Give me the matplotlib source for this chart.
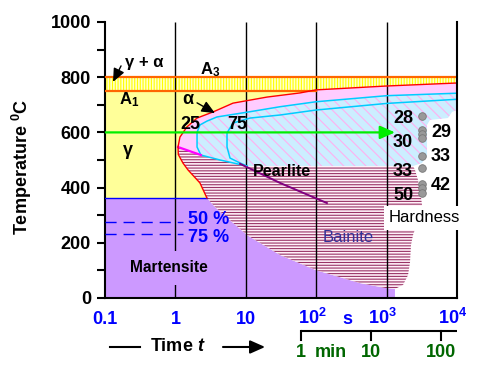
import numpy as np
import matplotlib
matplotlib.use('Agg')
import matplotlib.pyplot as plt
import matplotlib.transforms as mtransforms
from matplotlib.patches import FancyArrowPatch
from matplotlib.ticker import NullLocator

plt.rcParams['font.family'] = ['Liberation Sans', 'DejaVu Sans']
plt.rcParams['mathtext.fontset'] = 'custom'
plt.rcParams['mathtext.rm'] = 'Liberation Sans:bold'
plt.rcParams['mathtext.bf'] = 'Liberation Sans:bold'
plt.rcParams['mathtext.it'] = 'Liberation Sans:bold:italic'
plt.rcParams['hatch.linewidth'] = 0.8

# ---------------- data ----------------
A3 = 800
A1 = 750
Ms = 362
M50 = 274
M75 = 232
T_iso = 600

# pearlite start curve (red)
red_t = [10000, 977, 99, 58.9, 20, 6.58, 3.42, 2.03, 1.46, 1.16, 1.09, 1.10, 1.28, 1.51, 2.23, 2.81, 3.65]
red_T = [779, 768, 754, 743, 728, 706, 674, 652, 620, 583, 547, 520, 489, 464, 417, 362, 330]
nose = 10
# 25 % and 75 % transformation curves (cyan)
c25_t = [10000, 1000, 99, 30.6, 11.5, 3.9, 2.81, 2.23, 2.03, 2.03, 2.03, 2.3, 4.31, 10.4]
c25_T = [742, 733, 711, 693, 675, 656, 641, 627, 600, 580, 547, 518, 500, 478]
c75_t = [10000, 1000, 99, 30.6, 11.5, 6.58, 5.41, 5.41, 5.41, 5.97, 8.3, 10.4]
c75_T = [720, 705, 681, 663, 652, 634, 598, 572, 547, 507, 489, 478]
# pearlite / bainite separation (magenta)
mag_t = [1.09, 2.3]
mag_T = [547, 518]
# right edge of pearlite field
pe_t = [2370, 3185, 3750, 3750, 4130, 7450, 8490, 10000]
pe_T = [478, 489, 518, 627, 645, 652, 674, 681]
# right edge of bainite field
be_t = [2370, 2530, 2790, 2980, 3185, 2980, 2370, 2220, 2150, 2015, 1710, 1315]
be_T = [478, 464, 428, 391, 337, 301, 228, 192, 130, 83, 47, 33]
# martensite boundary
ms_t = [2.81, 3.65, 10.4, 30.6, 99, 419, 977, 1315]
ms_T = [362, 330, 228, 156, 101, 54, 36, 33]
# bainite inner line (purple)
bl_t = [8.3, 30.6, 142]
bl_T = [486, 417, 344]

# hardness
hard_left = ['28', '30', '33', '50']
hard_left_T = [649, 565, 460, 373]
hard_right = ['29', '33', '42']
hard_right_T = [601, 511, 409]
dot_T = [659, 609, 594, 580, 514, 471, 413, 399, 380]
t_left, t_dots, t_right = 1710, 3185, 5930

xticks = [0.1, 1, 10, 100, 1000, 10000]
xtick_labels = ['0.1', '1', '10', r'$10^2$', r'$10^3$', r'$10^4$']
min_ticks = [60, 600, 6000]
min_labels = ['1', '10', '100']

# ---------------- figure ----------------
fig = plt.figure(figsize=(4.84, 3.72), dpi=100)
ax = fig.add_axes([105/484, 74/372, 352/484, 276/372])
ax.set_xscale('log')
ax.set_xlim(0.1, 10000)
ax.set_ylim(0, 1000)

t_a1 = 10 ** np.interp(A1, [red_T[3], red_T[2]], np.log10([red_t[3], red_t[2]]))

# yellow austenite
yt = [0.1, 0.1, t_a1] + red_t[3:16]
yT = [Ms, A1, A1] + red_T[3:16]
ax.fill(yt, yT, facecolor='#FFFF99', lw=0, zorder=1)

# striped band A1..A3
bt = [0.1, t_a1] + red_t[2::-1] + [10000, 0.1]
bT = [A1, A1] + red_T[2::-1] + [A3, A3]
ax.fill(bt, bT, facecolor='#FFFFCC', edgecolor='#FFFF00', hatch='||||||', lw=0, zorder=1)

# martensite
mt = [0.1, 0.1] + ms_t + [ms_t[-1]]
mT = [0, Ms] + ms_T + [0]
ax.fill(mt, mT, facecolor='#CC99FF', lw=0, zorder=1)

# pink (pearlite start region)
pt = red_t[:nose+1] + c25_t[11::-1]
pT = red_T[:nose+1] + c25_T[11::-1]
ax.fill(pt, pT, facecolor='#FFCCFF', lw=0, zorder=1)

# pearlite hatched
ht = c25_t + pe_t
hT = c25_T + pe_T
ax.fill(ht, hT, facecolor='#CCEEFF', edgecolor='#FFB0F0', hatch='\\\\\\', lw=0, zorder=1)

# bainite hatched
bnt = [red_t[nose]] + c25_t[11:] + be_t + ms_t[6:0:-1] + red_t[15:nose:-1]
bnT = [red_T[nose]] + c25_T[11:] + be_T + ms_T[6:0:-1] + red_T[15:nose:-1]
ax.fill(bnt, bnT, facecolor='#FFF0F8', edgecolor='#993366', hatch='------', lw=0, zorder=1)

# grid lines
ax.vlines([1, 10, 100, 1000], 0, 1000, color='black', lw=1, zorder=2)

# curves
ax.plot([0.1, 10000], [A3, A3], color='#FF6600', lw=1.6, zorder=3)
ax.plot([0.1, red_t[2]], [A1, A1], color='#FF6600', lw=1.6, zorder=3)
ax.plot(red_t[:16], red_T[:16], color='#FF0000', lw=1.0, zorder=4)
ax.plot(c25_t, c25_T, color='#00CCFF', lw=1.1, zorder=3)
ax.plot(c75_t, c75_T, color='#00CCFF', lw=1.1, zorder=3)
ax.plot(mag_t, mag_T, color='#FF00FF', lw=1.6, zorder=3)
ax.plot(bl_t, bl_T, color='#800080', lw=1.4, zorder=3)
ax.plot([0.1, ms_t[0]], [Ms, Ms], color='#0000FF', lw=1.0, zorder=3)
ax.plot([0.1, 1.28], [M50, M50], color='#0000FF', lw=1.0, ls=(0, (8, 5)), zorder=3)
ax.plot([0.1, 1.28], [M75, M75], color='#0000FF', lw=1.0, ls=(0, (8, 5)), zorder=3)

# isothermal arrow
ax.add_patch(FancyArrowPatch((0.1, T_iso), (1315, T_iso), arrowstyle='-|>,head_length=0.9,head_width=0.4',
                             mutation_scale=10, color='#00EE00', lw=1.6, zorder=5,
                             shrinkA=0, shrinkB=0))

# hardness dots
ax.scatter([t_dots]*len(dot_T), dot_T, s=30, facecolor='#999999', edgecolor='#777777', lw=0.6, zorder=6)
for s, T in zip(hard_left, hard_left_T):
    ax.text(t_left, T, s, ha='center', va='center', fontsize=13, fontweight='bold', zorder=7)
for s, T in zip(hard_right, hard_right_T):
    ax.text(t_right, T, s, ha='center', va='center', fontsize=13, fontweight='bold', zorder=7)
ax.text(3400, 290, 'Hardness', ha='center', va='center', fontsize=12, zorder=10,
        bbox=dict(boxstyle='square,pad=0.25', facecolor='white', edgecolor='none'), clip_on=False)

# labels inside
ax.text(0.358, 855, 'γ + α', ha='center', va='center', fontsize=12, fontweight='bold', zorder=7)
ax.annotate('', xy=(0.130, 783), xytext=(0.169, 841),
            arrowprops=dict(arrowstyle='-|>,head_length=0.8,head_width=0.35', color='black', lw=1,
                            shrinkA=0, shrinkB=0), zorder=7)
ax.text(3.1, 826, r'A$_3$', ha='center', va='center', fontsize=12, fontweight='bold', zorder=7)
ax.text(0.219, 717, r'A$_1$', ha='center', va='center', fontsize=12, fontweight='bold', zorder=7)
ax.text(1.51, 721, 'α', ha='center', va='center', fontsize=13, fontweight='bold', zorder=7)
ax.annotate('', xy=(3.65, 670), xytext=(2.03, 707),
            arrowprops=dict(arrowstyle='-|>,head_length=0.8,head_width=0.35', color='black', lw=1,
                            shrinkA=0, shrinkB=0), zorder=7)
ax.text(1.61, 630, '25', ha='center', va='center', fontsize=13, fontweight='bold', zorder=7)
ax.text(7.5, 630, '75', ha='center', va='center', fontsize=13, fontweight='bold', zorder=7)
ax.text(0.21, 536, 'γ', ha='center', va='center', fontsize=13, fontweight='bold', zorder=7)
ax.text(32.7, 460, 'Pearlite', ha='center', va='center', fontsize=11.5, fontweight='bold', zorder=7)
ax.text(3.0, 283, '50 %', ha='center', va='center', fontsize=13, fontweight='bold', color='#0000FF', zorder=7)
ax.text(3.0, 221, '75 %', ha='center', va='center', fontsize=13, fontweight='bold', color='#0000FF', zorder=7)
ax.text(0.81, 109, 'Martensite', ha='center', va='center', fontsize=11.2, fontweight='bold', zorder=7,
        bbox=dict(boxstyle='square,pad=0.6', facecolor='#CC99FF', edgecolor='none'))
ax.text(283, 221, 'Bainite', ha='center', va='center', fontsize=12, color='#333399', zorder=7)

# axes styling
for sp in ['left', 'bottom', 'right']:
    ax.spines[sp].set_linewidth(1.5)
ax.spines['top'].set_visible(False)
ax.spines['right'].set_zorder(4)
ax.set_yticks(range(0, 1001, 200))
ax.set_yticks(range(100, 1000, 200), minor=True)
ax.tick_params(axis='y', which='both', direction='out', length=6, width=1.5, pad=4,
               labelsize=13)
for lab in ax.get_yticklabels():
    lab.set_fontweight('bold')
ax.xaxis.set_major_locator(NullLocator())
ax.xaxis.set_minor_locator(NullLocator())
ax.set_ylabel(r'Temperature $^0$C', fontsize=13, fontweight='bold')
ax.yaxis.set_label_coords(-0.2017, 0.475)

# x tick labels (manual)
xt = ax.get_xaxis_transform()
for t, s in zip(xticks, xtick_labels):
    off = -4 if '^' in s else 0
    tr = mtransforms.offset_copy(xt, fig=fig, x=off, y=0, units='dots')
    ax.text(t, -0.094, s, transform=tr, ha='center', va='baseline', fontsize=13,
            fontweight='bold', color='#0000FF', clip_on=False)
ax.text(274, -0.094, 's', transform=xt, ha='center', va='baseline', fontsize=13,
        fontweight='bold', color='#0000FF', clip_on=False)

# time arrow
ax.text(1.09, -0.1775, r'Time $t$', transform=xt, ha='center', va='center', fontsize=13,
        fontweight='bold', clip_on=False)
ax.plot([0.118, 0.314], [-0.1775, -0.1775], transform=xt, color='black', lw=1.5, clip_on=False)
ax.add_patch(FancyArrowPatch((4.74, -0.1775), (18.8, -0.1775), transform=xt,
                             arrowstyle='-|>,head_length=0.9,head_width=0.4', mutation_scale=10,
                             color='black', lw=1.5, clip_on=False, shrinkA=0, shrinkB=0))

# minute axis
ax.plot([min_ticks[0], 10000], [-0.1185, -0.1185], transform=xt, color='black', lw=1.5,
        clip_on=False, solid_capstyle='butt')
for t in min_ticks:
    ax.plot([t, t], [-0.1185, -0.152], transform=xt, color='black', lw=1.5, clip_on=False)
for t, s in zip(min_ticks, min_labels):
    ax.text(t, -0.199, s, transform=xt, ha='center', va='center', fontsize=13,
            fontweight='bold', color='#006600', clip_on=False)
ax.text(160, -0.199, 'min', transform=xt, ha='center', va='center', fontsize=13,
        fontweight='bold', color='#006600', clip_on=False)

fig.savefig('out.png', dpi=100)
